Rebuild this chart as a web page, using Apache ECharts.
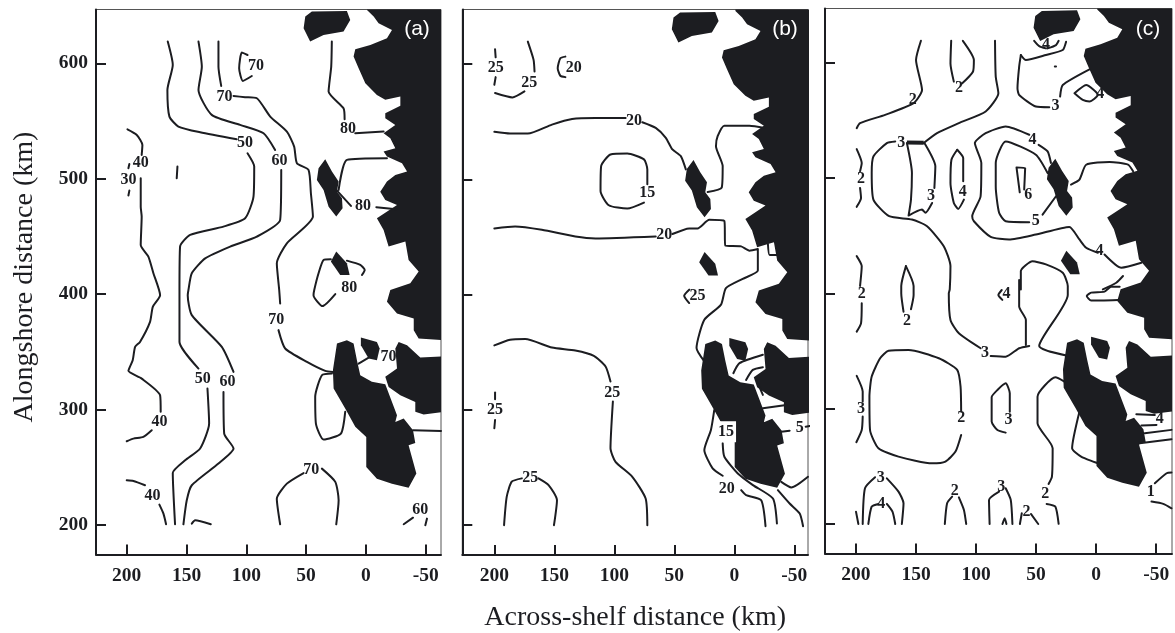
<!DOCTYPE html>
<html><head><meta charset="utf-8">
<script src="https://cdn.jsdelivr.net/npm/echarts@6/dist/echarts.min.js"></script>
<style>html,body{margin:0;padding:0;background:#fff}#c{width:1175px;height:633px}</style>
</head><body><div id="c"></div>
<script>
const xTicks=[200,150,100,50,0,-50];
const yTicks=[200,300,400,500,600];
const landCoast=[[-0.9,650],[-0.9,646.2],[-6.5,640.5],[-10.6,634.7],[-21.8,628.9],[-17.6,621.7],[-3.7,615.9],[8.9,612.2],[10.3,605.8],[6.1,595.7],[0.5,582.7],[-9.2,572.6],[-16.2,568.3],[-28.8,571.2],[-28.8,563.1],[-16.2,556.7],[-16.2,552.4],[-24.6,546.6],[-14.8,539.4],[-20.4,535],[-24.6,526.4],[-14.8,523.5],[-17.6,519.2],[-30.2,513.4],[-34.4,506.2],[-24.6,503.3],[-17.6,497.5],[-12,488.8],[-16.2,481.6],[-26,477.3],[-9.2,465.7],[-14.8,455.6],[-19,441.2],[-33,445.5],[-35.7,429.6],[-44.1,419.5],[-37.1,409.4],[-20.4,403.6],[-17.6,393.3],[-26,383.2],[-40,378.9],[-40,368.8],[-44.1,361.5],[-66,360],[-66,650]];
const landLowerEast=[[-66,346.2],[-45.5,345],[-34.4,355.7],[-27.4,358.6],[-24.6,352.9],[-26,335.5],[-16.2,328.3],[-19,319.6],[-28.8,312.4],[-41.3,306.6],[-41.3,298],[-48.3,295.6],[-66,298]];
const landCentral=[[15.9,360.1],[10.3,357.2],[7.5,342.7],[4.7,329.7],[-5,324],[-16.2,321.9],[-26,295],[-24.6,289.3],[-31.6,292.2],[-39.4,282.1],[-41.3,271.1],[-35.7,269],[-42.2,244.5],[-35.7,232.3],[-21.8,235.8],[-9.2,240.1],[-0.3,250.3],[-0.3,276.3],[8.9,285],[17.3,300.8],[27,318.2],[27.6,334.1],[24.2,357.2]];
const landSmall=[[4.2,362.4],[-9.2,358.6],[-11.5,352.9],[-9.2,342.7],[-2.3,344.2],[4.2,355.7]];
const landTop=[[50.7,640.5],[45.2,644.8],[15.9,645.4],[13.1,637.6],[18.7,627.5],[35.4,624.6],[46.6,618.8],[52.1,630.4]];
const landMid=[[34,516.8],[28.4,506.2],[22.8,497.5],[24.2,488.8],[20,483],[19.5,474.4],[24.8,467.2],[31.2,475.8],[35.4,490.3],[41,498.9],[39.6,509]];
const landIsle=[[24.8,436.9],[15.9,426.7],[13.6,416.6],[21.5,416.6],[29.3,428.2]];
const land=[landCoast,landLowerEast,landCentral,landSmall,landTop,landMid,landIsle];

const contoursA=[
[[199.4,542.8],[191.6,537.9],[186.9,529.3],[187.5,520.6]],
[[197.8,512.8],[198.6,509]],
[[197.8,489.7],[198.6,485.4]],
[[188.3,500.4],[188.3,475.8],[187.5,467.2],[188.3,442.6],[181.9,432.5],[177.7,418.1],[172.1,399.1],[178.2,389],[180.5,376],[188.9,358.6],[193,354.3],[195,342.7],[198.6,333.5],[187.5,326.8],[172.1,312.4],[171.6,298]],
[[179.1,282.1],[186.1,276.3],[194.4,274.8],[200,272.5]],
[[200,238.7],[194.4,238.1],[184.7,234.4]],
[[172.7,217.6],[169.3,209.8],[167.1,200.6]],
[[165.7,618.8],[161.5,598.6],[166,576.9],[164.3,553.8],[156.8,545.2],[138.6,540.2],[108,534.2]],
[[99,522],[93.4,510.5],[94,484.5],[101,465.7],[119.1,458.5],[147,451.3],[155.4,441.2],[155.9,403.6],[155.9,383.2],[155.9,358.6],[140,335.5]],
[[132.5,318.2],[131.1,287.8],[138.6,266.2],[151.2,256],[161.5,245],[159.6,200.6]],
[[140,618.8],[137.2,597.1],[140,576.9],[128.9,555.3],[105.2,546.6],[85.6,539.4],[75.9,524.9]],
[[70.8,507.6],[71.7,464.3],[91.2,449.8],[113.5,441.2],[134.4,431],[145.6,418.1],[148.4,403.6],[149,399.1],[145.6,381.8],[120.5,354.3],[110.7,332.6]],
[[119.1,315.3],[118.5,279.2],[110.7,266.2],[123.3,253.2],[145.6,234.4],[149.8,221.4],[152.6,200.6]],
[[123.3,618.8],[123.3,597.1],[121,580.4]],
[[110.7,571.7],[101,570.6],[91.2,569.7],[80,553.8],[66.1,540.8],[60,527.8],[57.7,513.4],[48,507.6],[46,487.4],[44.3,467.2],[66.1,444],[74.5,426.7],[72.5,403.6],[71.7,391.9]],
[[73.1,368.8],[67.5,352.9],[49.3,341.3],[34,333.5],[27.6,332.6]],
[[99,607.2],[103.8,609.3],[106,595.7],[102.9,584.7],[95.4,589]],
[[28.4,331.2],[36.8,329.7],[42.4,311],[41.8,287.8],[35.4,274],[20.9,279.2],[17.3,298]],
[[71.7,200.6],[74.5,222.8],[66.1,235.8],[52.1,245]],
[[36.8,248.8],[25.6,237.3],[22.8,221.4],[24.8,200.6]],
[[6.1,339.8],[-2.3,345]],
[[28.5,618.8],[29,597.1],[31.2,575.5],[18.7,561],[17.8,551.5]],
[[8.9,539.4],[-14.8,540.8]],
[[22.8,490.3],[15.9,516.3],[-17.6,517.7]],
[[24.2,489.7],[12.5,476.4]],
[[-8.7,475.3],[-25.4,473.5]],
[[29.3,430.2],[35.4,429.6],[39.6,418.1],[43.2,403.6],[43.8,399.1],[36.2,389.6],[25.6,400]],
[[15.9,429],[4.7,425.3],[1,421],[3.3,416.6]],
[[-31.6,200.6],[-39.4,206.3]],
[[-51.1,205.5],[-49.7,199.7]],
[[145.6,201.1],[142.8,204],[129.7,200.6]],
[[157.6,510.5],[158.2,500.4]],
[[-39.4,282.1],[-62.8,281.5]]
];
const labelsA=[[92,597.7,'70'],[118.3,571.1,'70'],[15,542.8,'80'],[101,530.7,'50'],[72.2,515.7,'60'],[188.3,513.4,'40'],[198.6,499,'30'],[2.5,476.7,'80'],[13.9,405.7,'80'],[75,378,'70'],[136.4,326.8,'50'],[115.7,324,'60'],[172.7,289.3,'40'],[-19,345.6,'70'],[45.7,247.4,'70'],[178.5,225.1,'40'],[-45.5,212.7,'60']];

const contoursB=[
[[199.4,613],[198.9,606]],
[[198.9,588.8],[200,582.2]],
[[172.1,619.6],[167.3,603.8],[166.5,593.7]],
[[174.9,576.4],[184.9,571.2],[199.4,575]],
[[140.8,606.6],[145,605.2],[147.2,596.6],[145,590],[140.8,588.8]],
[[200,541.3],[186.9,539.8],[172.1,539.8],[152,547.6],[135.2,552.5],[115.7,553.4],[90.6,553.4]],
[[76.7,549.6],[65.5,544.7],[57.1,536.1],[51.6,526],[44.6,520.2],[40.4,508.7]],
[[72.5,495.8],[72.5,508.7],[75.3,517.4],[89.2,522.5],[103.2,521.7],[111,511.6],[111.5,490],[104.6,477.6],[89.2,474.7],[75.3,479.9]],
[[22.2,489.1],[10.5,492.9],[9.7,511.6],[15.3,528.9],[13.9,537.5],[8.3,546.7],[-12.6,546.7],[-25.2,544.7]],
[[200,457.5],[182.7,459.2],[160.4,456.3],[132.5,450.5],[115.7,448.8],[65.5,450.5]],
[[51.6,452.6],[37.6,457.5],[30.6,457.5],[20.9,464.9],[8.3,464],[7.5,442.5],[-5.7,441.9],[-12.6,438.2],[-19.6,439.6],[-19.6,420.9],[-7,413.7],[7,405.6],[11.1,391.3],[25,378.2],[31.5,353.6],[25,342]],
[[-28,444],[-29.4,434.4],[-35.5,434.4]],
[[37.6,404.3],[41.8,399.1],[37.6,392.7]],
[[200,355.9],[186.9,360.8],[174.3,361.4],[152,354.1],[132.5,351.5],[117.1,346.9],[107.3,337.6],[103.2,324.6]],
[[101.2,307.2],[103.2,266.6],[99,254.9],[85,241.9],[73.9,223],[72.5,199.9]],
[[199.4,315],[199.4,309.2]],
[[199.4,291.2],[200,284]],
[[191.9,199.9],[189.7,224.5],[185.5,237.6],[177.1,240.5]],
[[163.2,240.5],[154.8,234.7],[147.8,221.6],[150.3,199.9]],
[[16.7,299.9],[19.5,282.5],[25,265.1],[18.1,249.2],[9.7,242.8]],
[[9.7,270.9],[8.3,259.3],[-2.9,244.8],[-15.5,234.7],[-32.2,223],[-35.5,201.3]],
[[-5.7,230.3],[-9.8,226],[-22.4,221.6],[-26,199]],
[[-36.3,230.3],[-46.1,218.7],[-54.5,210],[-57.3,199]],
[[-39.1,237.5],[-47.5,232.6],[-61.4,241.9]],
[[0.8,331.8],[-4.3,340.5],[-23.8,347.8]],
[[-9.8,326],[-15.4,334.7],[-23.8,337]],
[[-23.8,313],[-19.6,323]],
[[-23.8,301.4],[-43.3,304.3]],
[[-39.1,281],[-46.1,281.9]],
[[-59.5,285.4],[-62.8,286]]
];
const labelsB=[[198.9,597.1,'25'],[171,584.2,'25'],[133.9,597.1,'20'],[83.6,550.5,'20'],[72.5,488.6,'15'],[58.5,451.7,'20'],[30.6,399.1,'25'],[101.8,315,'25'],[199.4,299.9,'25'],[170.1,241.3,'25'],[6.9,281,'15'],[6.4,231.8,'20'],[-54.5,284,'5']];

const contoursC=[
[[145.9,619],[150,602.3],[145,576.4],[152,564.9],[175.7,554.8],[196.6,547.6],[199.4,543.2]],
[[120.7,619],[121.3,599.4],[118.5,583.6]],
[[111,619],[101.8,602.3],[102.6,592.2],[111.5,582.1]],
[[84.2,619],[83.6,587.9],[81.4,573.5],[92,557.7],[114.3,547.6],[132.5,538.9],[143.6,530.3]],
[[167.3,531.7],[174.3,530.3],[185.5,518.7],[186.9,504.3],[185.5,481.3],[172.4,466.9],[153.4,464],[140.8,458.2],[126.9,440.9],[121.3,423.6],[121.9,403.4],[122.7,400],[121.3,376.9],[114.3,365.4],[96.2,352.4]],
[[87.8,345.7],[75.3,345.1],[64.1,352.4],[55.7,354.4]],
[[157.6,530.3],[153.4,504.3],[154.2,481.3],[156.2,467.4],[145,472.6],[142.2,469.8],[136.6,478.4]],
[[143,530.3],[133.9,510.1],[134.7,491.4]],
[[199.4,525.1],[195.2,513],[196.6,505.8]],
[[196.6,491.4],[195.8,482.7],[199.4,475]],
[[115.7,524.5],[110.7,517.3],[110.7,497.1]],
[[110.1,481.3],[114.9,473.2],[118.5,478.4],[121.3,495.7],[120.5,515.9],[115.7,524.5]],
[[55.7,537.5],[75.3,544.7],[92,538.9],[101,530.3],[95.6,513],[96.2,484.2],[103.2,466.9],[101.8,462.5],[87.8,449],[72.5,446.7],[50.2,451],[22.3,457.6],[13.9,446.7],[8.3,439.5],[-1.5,435.2]],
[[-7,433.7],[-21,422.2],[-37.7,426.5]],
[[47.9,528.8],[40.4,523.1],[37.6,513]],
[[33.4,484.2],[44.6,468.3]],
[[55.7,461.7],[75.3,462.5],[80.8,469.8],[83.6,492.8],[83.6,513],[75.3,531.7],[50.2,520.2],[40.4,504.3]],
[[63.6,487.6],[66.3,509.2],[59.1,508.7],[59.9,490]],
[[20.9,494.3],[13.9,498.6],[8.3,511.5],[-11.2,513.9],[-26.6,511.6],[-30.8,505.8]],
[[62.7,606.6],[58.5,602.3],[41.8,606.6],[27.8,611],[25,618.2]],
[[62.7,606.6],[64.1,596.6],[65.5,577.8],[64.1,572],[50.2,562],[39,561.4]],
[[30,570.6],[27.8,580.7],[5.5,594.3]],
[[18,573.5],[8.3,580.7],[-1.5,572.1],[5.5,566.3],[11.1,567.7],[18,573.5]],
[[51.6,619],[47.4,614.4],[41.8,612.4]],
[[40.4,612.4],[33.4,615.3],[31.2,619]],
[[34.4,596.6],[33.4,596.6]],
[[199.4,432.3],[195.2,423.6],[196.6,406.4]],
[[195.2,391.4],[195.8,374],[199.4,366.8]],
[[158.4,423.6],[162.3,406.3],[162.3,400],[160.4,384.1]],
[[158.4,423.6],[152,406.3],[152,398.6],[154.2,386.2]],
[[62.7,403.4],[62.7,419.3],[53,427.9],[41.8,425.1],[27.8,417.9],[23.6,406.3],[23.6,398.6],[47.4,354.4],[22.9,345.7]],
[[64.1,411.6],[64.1,388.5],[58.5,376.9],[58.5,355.2]],
[[78.6,402.9],[81.4,398.6],[78.1,394.3]],
[[-5.6,403.4],[-16.8,409.2],[-22.4,415]],
[[-19.6,405.8],[-12.6,405.8],[-7,401.5],[4.1,400.6],[7.8,397.7],[4.1,393.7],[-18.2,394.3]],
[[112.4,297.4],[112.9,319.1],[115.7,333.6],[131,343.7],[156.2,350.9],[172.9,350.3],[179.9,343.7],[186.9,327.8],[188.8,310.4],[188.3,281.5],[181.3,265.7],[164.6,258.4],[136.6,252.6],[125.5,254.1],[117.1,262.8],[112.4,277.2]],
[[199.4,328.4],[194.4,314.8],[194.4,306.1]],
[[194.4,293.1],[195.2,281.5],[199.7,270.9]],
[[71.9,297.4],[71.9,313.3],[75.3,322],[82.2,316.2],[87,309.9],[87,288.8],[82.2,281.5],[75.3,279.2]],
[[26.4,323.5],[33.9,327.2],[48.8,310.4],[48.8,287.3],[36.2,265.7],[36.8,241.1],[39.6,234.7]],
[[41.2,217.4],[34,215.1],[31.2,200.1]],
[[13.9,297.4],[20,265.7],[12.5,258.4],[-1.5,252.6]],
[[194.4,200],[192.5,231],[184.1,240.5]],
[[174.3,239.6],[164.6,228.1],[160.4,218],[161.8,200]],
[[189.7,200],[186.9,215.1],[181.3,217.4]],
[[174.3,217.4],[169.6,210.7],[167.3,200]],
[[200,210.7],[198,200]],
[[126,200],[124.1,218],[119.9,223.7]],
[[114.3,223.1],[110.1,212.2],[108.2,200]],
[[88.7,200],[89.2,220.9],[80.8,228.1]],
[[75.3,231],[71.1,220.9],[69.7,200]],
[[78,200],[76.1,205],[74.7,200]],
[[63.5,200],[61.9,209.3]],
[[54.3,208.7],[48.2,200]],
[[-48.9,235.3],[-58.7,244],[-62.8,244.6]],
[[-46.1,219.4],[-55.9,217.4],[-62.8,213.6]],
[[-33.5,295.1],[-48.9,294.6]],
[[-37.7,285.3],[-50.3,285.9]],
[[-40.5,278.7],[-62.8,281.6]],
[[-36.3,270],[-62.8,273.5]]
];
const thickC=[[143.6,530.5],[157.6,530.9]];
const labelsC=[[152.8,567.7,'2'],[114.3,577.8,'2'],[162.3,530.9,'3'],[137.5,484.2,'3'],[195.8,499.2,'2'],[111,487.6,'4'],[53,533,'4'],[50.2,462.5,'5'],[56.6,485.6,'6'],[33.9,562.6,'3'],[-3.4,572.6,'4'],[41.8,615.3,'4'],[-2.9,436.6,'4'],[195.2,399.5,'2'],[157.6,376.3,'2'],[74.7,399.5,'4'],[92.6,348.6,'3'],[112.4,291.7,'2'],[195.8,299.5,'3'],[73,290.2,'3'],[42.3,226.1,'2'],[179.3,239.6,'3'],[179,217.4,'4'],[117.7,228.9,'2'],[79,231.8,'3'],[57.9,210.7,'2'],[-45.5,227.5,'1'],[-53.1,290.8,'4']];

const panels=[
 {name:'(a)',grid:{left:96,top:9.5,width:345,height:545},x:[-62.8,225.7],y:[174.4,646.6],contours:contoursA,labels:labelsA,tag:[417,31]},
 {name:'(b)',grid:{left:462.3,top:9.5,width:345.7,height:545.5},x:[-61.4,226.7],y:[174,647.5],contours:contoursB,labels:labelsB,tag:[785,31]},
 {name:'(c)',grid:{left:825,top:8.5,width:347,height:545},x:[-63.2,225.8],y:[174.4,647],contours:contoursC,labels:labelsC,tag:[1148,31]}
];
const ink='#1c1d21', serif='"Liberation Serif",serif';
const grid=[],xAxis=[],yAxis=[],series=[],title=[];
panels.forEach((p,i)=>{
 grid.push(Object.assign({show:true,borderColor:'#555',borderWidth:1,backgroundColor:'#fff',outerBoundsMode:'none',containLabel:false},p.grid));
 xAxis.push({type:'value',gridIndex:i,inverse:true,min:p.x[0],max:p.x[1],splitLine:{show:false},
  axisLine:{show:true,onZero:false,lineStyle:{color:ink,width:2}},
  axisTick:{show:true,inside:true,length:10,lineStyle:{color:ink,width:2},customValues:xTicks},
  axisLabel:{show:true,customValues:xTicks,margin:11,color:ink,fontFamily:serif,fontWeight:'bold',fontSize:19.5,formatter:v=>String(v)},
  name:i===1?'Across-shelf distance (km)':'',nameLocation:'middle',nameGap:49,
  nameTextStyle:{fontFamily:serif,fontWeight:'normal',fontSize:28,color:ink}});
 yAxis.push({type:'value',gridIndex:i,min:p.y[0],max:p.y[1],splitLine:{show:false},
  axisLine:{show:true,onZero:false,lineStyle:{color:ink,width:2}},
  axisTick:{show:true,inside:true,length:10,lineStyle:{color:ink,width:2},customValues:yTicks},
  axisLabel:{show:i===0,customValues:yTicks,margin:8,color:ink,fontFamily:serif,fontWeight:'bold',fontSize:19.5,formatter:v=>String(v)},
  name:i===0?'Alongshore distance (km)':'',nameLocation:'middle',nameGap:57,nameRotate:90,
  nameTextStyle:{fontFamily:serif,fontWeight:'normal',fontSize:28,color:ink,padding:[0,0,0,10]}});
 series.push({type:'custom',xAxisIndex:i,yAxisIndex:i,clip:true,silent:true,z:2,
  data:land.map((_,k)=>[k]),
  renderItem:(params,api)=>({type:'polygon',shape:{points:land[api.value(0)].map(c=>api.coord(c))},style:{fill:ink}})});
 p.contours.forEach(c=>series.push({type:'line',xAxisIndex:i,yAxisIndex:i,data:c,symbol:'none',silent:true,z:3,smooth:0.2,
  lineStyle:{color:ink,width:2,join:'round',cap:'round'}}));
 if(i===2) series.push({type:'line',xAxisIndex:i,yAxisIndex:i,data:thickC,symbol:'none',silent:true,z:3,lineStyle:{color:ink,width:4}});
 series.push({type:'scatter',xAxisIndex:i,yAxisIndex:i,symbolSize:0,silent:true,z:5,itemStyle:{opacity:1},
  data:p.labels.map(l=>({value:[l[0],l[1]],name:l[2],
    label:(i===1&&l[2]==='15'&&l[0]<10)?{backgroundColor:'#fff',padding:[3,2,2,2]}:undefined})),
  label:{show:true,position:'inside',formatter:d=>d.name,color:ink,fontFamily:serif,fontWeight:'bold',fontSize:16}});
 title.push({text:p.name,left:p.tag[0],top:p.tag[1]-12,textAlign:'center',padding:0,z:6,
  textStyle:{color:'#fff',fontFamily:'"Liberation Sans",sans-serif',fontWeight:'normal',fontSize:21}});
});
const chart=echarts.init(document.getElementById('c'),null,{renderer:'canvas'});
chart.setOption({animation:false,backgroundColor:'#fff',title,grid,xAxis,yAxis,series});
</script>
</body></html>
